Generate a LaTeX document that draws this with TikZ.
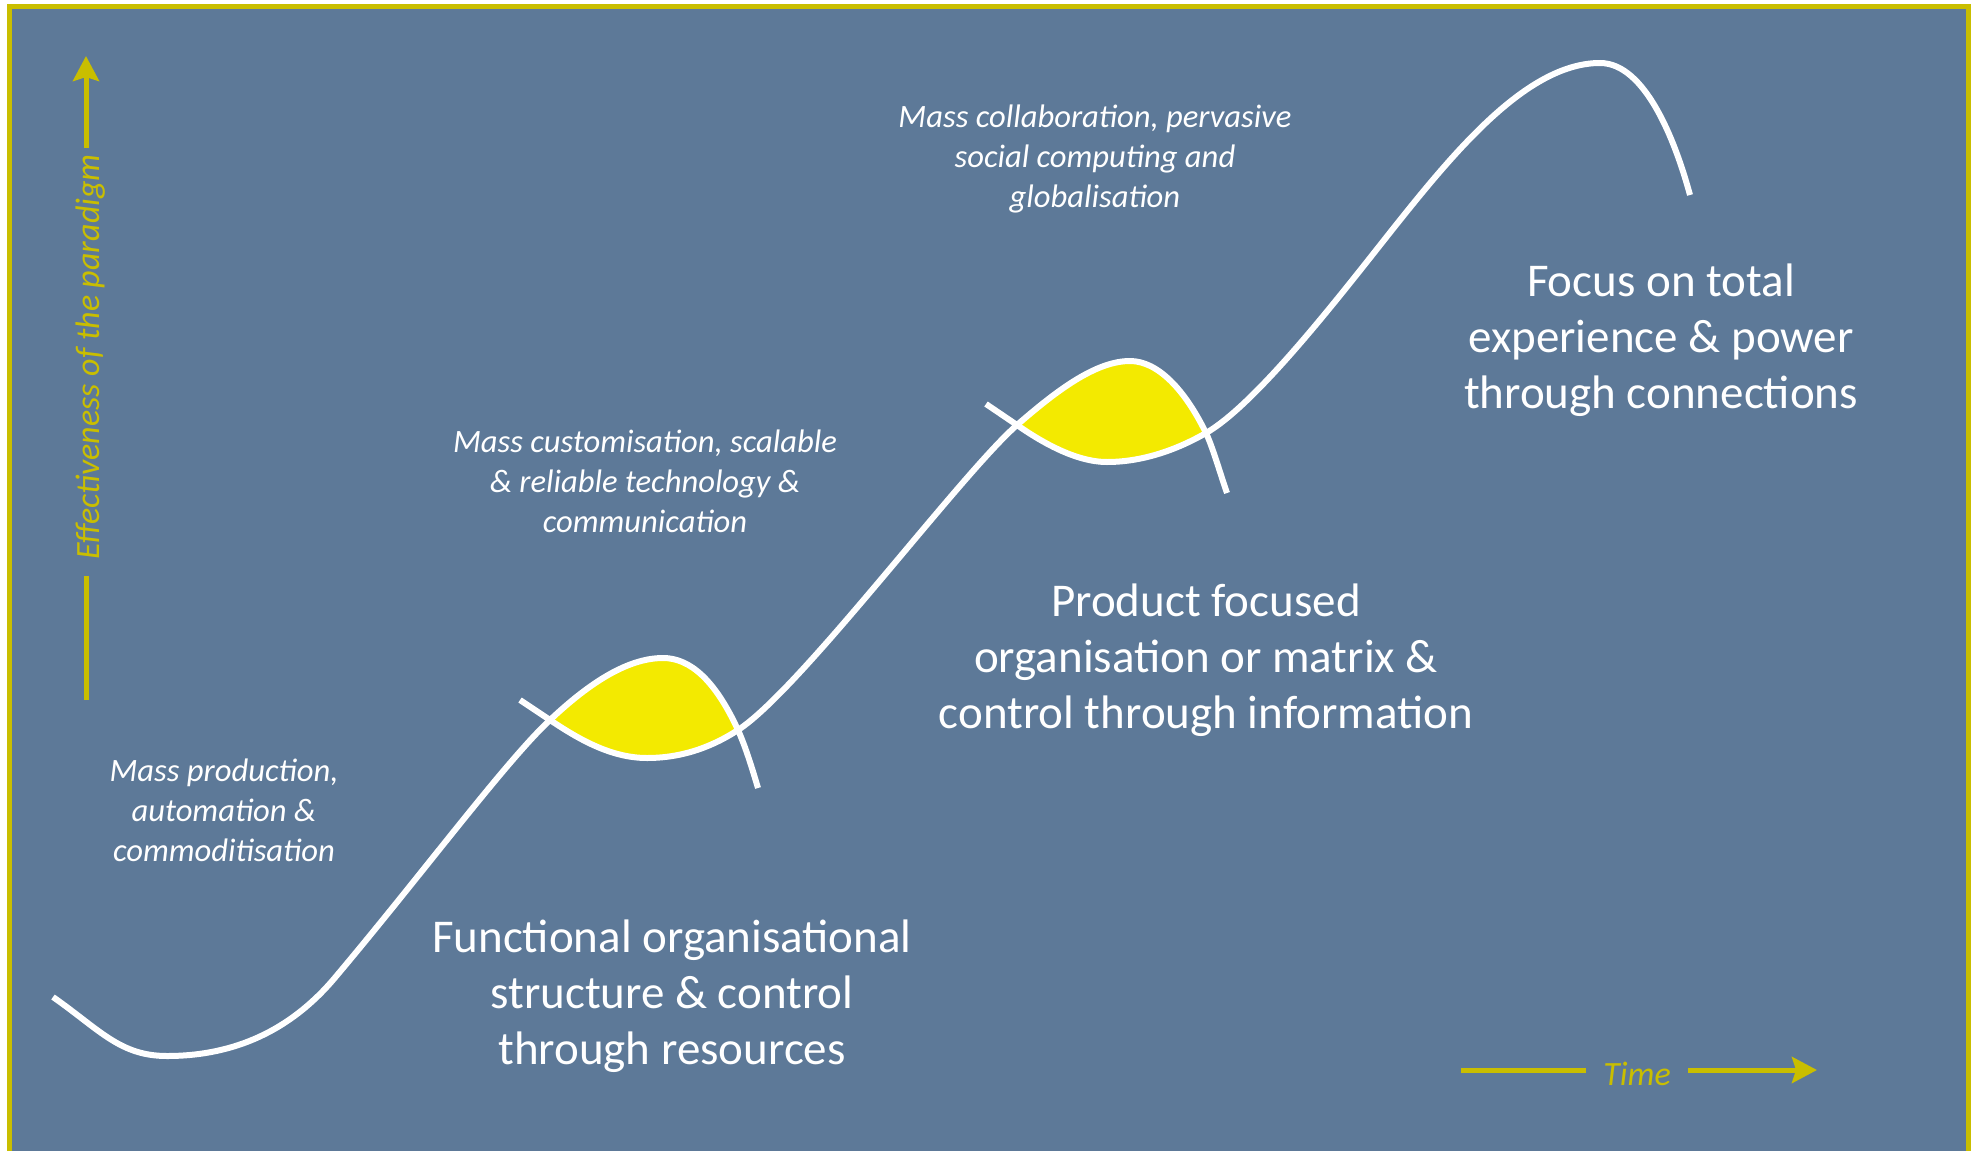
\documentclass[tikz,border=0pt]{standalone}
\usepackage{fontspec}
\setmainfont{Carlito}
\usetikzlibrary{arrows.meta}
\definecolor{bgblue}{RGB}{93,121,152}
\definecolor{axisyellow}{RGB}{201,190,0}
\definecolor{lensyellow}{RGB}{243,234,0}
\tikzset{
  curve/.style={draw=white, line width=6pt},
  lens/.style={fill=lensyellow},
  axisline/.style={draw=axisyellow, line width=5pt},
  axistip/.style={-{Stealth[length=25pt,width=26pt,inset=4pt]}},
  bigtext/.style={text=white, align=center, font=\fontsize{47}{56}\selectfont},
  smalltext/.style={text=white, align=center, font=\fontsize{32.6}{40}\selectfont\itshape},
  axislabel/.style={text=axisyellow, font=\fontsize{34}{40}\selectfont\itshape},
}
\begin{document}
\begin{tikzpicture}[x=1pt,y=-1pt]
\useasboundingbox (0,0) rectangle (1974,1151);
\fill[white] (0,0) rectangle (1974,1151);
\fill[bgblue] (9,6) rectangle (1968,1151);
\draw[axisyellow, line width=5pt] (9,1155) -- (9,6) -- (1968,6) -- (1968,1155);

% key points
\coordinate (c1s) at (53,997);
\coordinate (c1m) at (167,1056);
\coordinate (c1r) at (333,980);
\coordinate (x1) at (550,720);
\coordinate (p1) at (663,658);
\coordinate (y1) at (738,730);
\coordinate (c1e) at (758,788);
\coordinate (c2s) at (520,700);
\coordinate (b1) at (647,758);
\coordinate (x2) at (1017,425);
\coordinate (p2) at (1130,361);
\coordinate (y2) at (1206,433);
\coordinate (c2e) at (1227,493);
\coordinate (c3s) at (986,404);
\coordinate (b2) at (1107,462);
\coordinate (c3r) at (1400,220);
\coordinate (p3) at (1600,63);
\coordinate (c3e) at (1690,195);

% lenses
\fill[lens] (x1) .. controls (585,687) and (625,658) .. (p1)
  .. controls (690,658) and (715,680) .. (y1)
  .. controls (715,745) and (685,758) .. (b1)
  .. controls (610,758) and (577,738) .. (x1) -- cycle;
\fill[lens] (x2) .. controls (1055,392) and (1095,361) .. (p2)
  .. controls (1158,361) and (1185,390) .. (y2)
  .. controls (1180,448) and (1145,462) .. (b2)
  .. controls (1075,462) and (1040,441) .. (x2) -- cycle;

% curves
\draw[curve] (c1s) .. controls (100,1030) and (120,1056) .. (c1m)
  .. controls (235,1056) and (290,1030) .. (c1r)
  .. controls (420,877) and (505,762) .. (x1)
  .. controls (585,687) and (625,658) .. (p1)
  .. controls (690,658) and (715,680) .. (y1)
  .. controls (746,748) and (752,768) .. (c1e);
\draw[curve] (c2s) -- (x1)
  .. controls (577,738) and (610,758) .. (b1)
  .. controls (685,758) and (715,745) .. (y1)
  .. controls (800,690) and (960,475) .. (x2)
  .. controls (1055,392) and (1095,361) .. (p2)
  .. controls (1158,361) and (1185,390) .. (y2)
  .. controls (1213,448) and (1220,473) .. (c2e);
\draw[curve] (c3s) -- (x2)
  .. controls (1040,441) and (1075,462) .. (b2)
  .. controls (1145,462) and (1180,448) .. (y2)
  .. controls (1260,402) and (1352,280) .. (c3r)
  .. controls (1460,145) and (1530,63) .. (p3)
  .. controls (1645,63) and (1675,140) .. (c3e);

% axes
\coordinate (ya) at (86,700);
\coordinate (yb) at (86,576);
\coordinate (yc) at (86,148);
\coordinate (yd) at (86,56);
\coordinate (xa) at (1461,1070);
\coordinate (xb) at (1586,1070);
\coordinate (xc) at (1688,1070);
\coordinate (xd) at (1817,1070);
\draw[axisline] (ya) -- (yb);
\draw[axisline, axistip] (yc) -- (yd);
\draw[axisline] (xa) -- (xb);
\draw[axisline, axistip] (xc) -- (xd);
\node[axislabel, rotate=90] (ylab) at (91,357) {Effectiveness of the paradigm};
\node[axislabel] (xlab) at (1637,1074) {Time};

% texts
\node[bigtext] (t1) at (672,996) {Functional organisational\\structure \& control\\through resources};
\node[bigtext] (t2) at (1206,660) {Product focused\\organisation or matrix \&\\control through information};
\node[bigtext] (t3) at (1661,340) {Focus on total\\experience \& power\\through connections};
\node[smalltext] (s1) at (224,810) {Mass production,\\automation \&\\commoditisation};
\node[smalltext] (s2) at (645,481) {Mass customisation, scalable\\\& reliable technology \&\\communication};
\node[smalltext] (s3) at (1095,159) {Mass collaboration, pervasive\\social computing and\\globalisation};
\end{tikzpicture}
\end{document}
